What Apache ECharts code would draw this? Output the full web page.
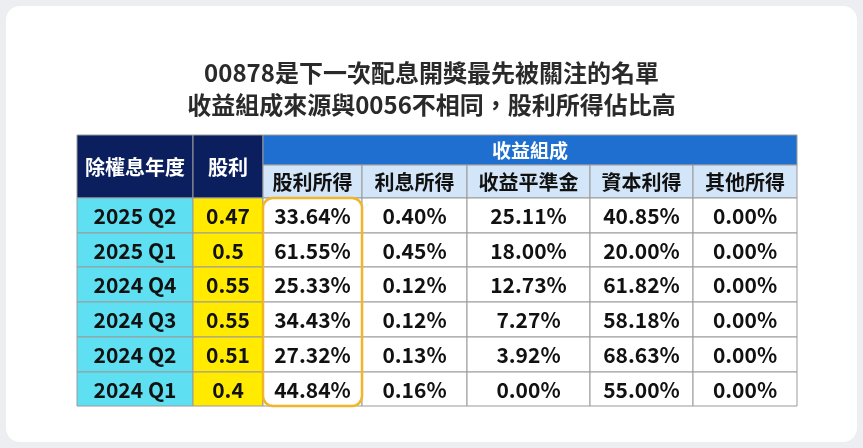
<!DOCTYPE html>
<html><head><meta charset="utf-8">
<script src="https://cdn.jsdelivr.net/npm/echarts@6/dist/echarts.min.js"></script>
<style>html,body{margin:0;background:#eceef2}#c{width:863px;height:448px}</style>
</head><body><div id="c"></div>
<script>
// 資料
var titles = ['00878是下一次配息開獎最先被關注的名單', '收益組成來源與0056不相同，股利所得佔比高'];
var periods = ['2025 Q2', '2025 Q1', '2024 Q4', '2024 Q3', '2024 Q2', '2024 Q1'];
var dividends = ['0.47', '0.5', '0.55', '0.55', '0.51', '0.4'];
var groupHeader = '收益組成';
var subHeaders = ['股利所得', '利息所得', '收益平準金', '資本利得', '其他所得'];
var divIncome = ['33.64%', '61.55%', '25.33%', '34.43%', '27.32%', '44.84%'];
var interest = ['0.40%', '0.45%', '0.12%', '0.12%', '0.13%', '0.16%'];
var equalization = ['25.11%', '18.00%', '12.73%', '7.27%', '3.92%', '0.00%'];
var capitalGain = ['40.85%', '20.00%', '61.82%', '58.18%', '68.63%', '55.00%'];
var other = ['0.00%', '0.00%', '0.00%', '0.00%', '0.00%', '0.00%'];

// 版面 (像素座標)
var colEdges = [77, 193, 263, 362, 467, 590, 693, 797];
var rowEdges = [135, 165, 198, 233, 267, 302, 337, 372, 406];
var fills = {navy: '#0b1f5e', blue: '#1f6fd0', light: '#d3e5f8', cyan: '#5fe0f2', yellow: '#ffea00', white: '#ffffff'};

var cells = [];
function add(c0, c1, r0, r1, text, kind) { cells.push([colEdges[c0], colEdges[c1], rowEdges[r0], rowEdges[r1], text, kind]); }
add(0, 1, 0, 2, '除權息年度', 'navy');
add(1, 2, 0, 2, '股利', 'navy');
add(2, 7, 0, 1, groupHeader, 'blue');
subHeaders.forEach(function (h, i) { add(i + 2, i + 3, 1, 2, h, 'light'); });
var cols = [divIncome, interest, equalization, capitalGain, other];
periods.forEach(function (p, r) {
    add(0, 1, r + 2, r + 3, p, 'cyan');
    add(1, 2, r + 2, r + 3, dividends[r], 'yellow');
    cols.forEach(function (col, i) { add(i + 2, i + 3, r + 2, r + 3, col[r], 'white'); });
});

var chart = echarts.init(document.getElementById('c'));
chart.setOption({
    backgroundColor: '#eceef2',
    graphic: [{type: 'rect', shape: {x: 6, y: 6, width: 851, height: 436, r: 14}, style: {fill: '#fff'}, z: -10}],
    title: [
        {text: titles[0], left: 'center', top: 56, textStyle: {fontFamily: 'Noto Sans CJK TC', fontSize: 24, fontWeight: 'bold', color: '#2a2a2a'}},
        {text: titles[1], left: 'center', top: 88, textStyle: {fontFamily: 'Noto Sans CJK TC', fontSize: 24, fontWeight: 'bold', color: '#2a2a2a'}}
    ],
    grid: {left: 0, right: 0, top: 0, bottom: 0},
    xAxis: {type: 'value', min: 0, max: 863, show: false},
    yAxis: {type: 'value', min: 0, max: 448, inverse: true, show: false},
    series: [{
        type: 'custom',
        data: cells,
        renderItem: function (params, api) {
            var c = cells[params.dataIndex];
            var p0 = api.coord([c[0], c[2]]), p1 = api.coord([c[1], c[3]]);
            var dark = c[5] === 'navy' || c[5] === 'blue';
            var size = c[5] === 'blue' ? 19 : (dark || c[5] === 'light' ? 20 : 21);
            return {
                type: 'group',
                children: [
                    {type: 'rect', shape: {x: p0[0], y: p0[1], width: p1[0] - p0[0], height: p1[1] - p0[1]},
                        style: {fill: fills[c[5]], stroke: '#9a9a9a', lineWidth: 1}},
                    {type: 'text', x: (p0[0] + p1[0]) / 2, y: (p0[1] + p1[1]) / 2 + 1,
                        style: {text: c[4], align: 'center', verticalAlign: 'middle',
                            fontFamily: 'Noto Sans CJK TC', fontWeight: 'bold', fontSize: size,
                            fill: dark ? '#fff' : '#111'}}
                ]
            };
        }
    }, {
        type: 'custom',
        data: [[colEdges[2], colEdges[3], rowEdges[2], rowEdges[8]]],
        z: 5,
        renderItem: function (params, api) {
            var p0 = api.coord([api.value(0), api.value(2)]), p1 = api.coord([api.value(1), api.value(3)]);
            return {type: 'rect', shape: {x: p0[0], y: p0[1], width: p1[0] - p0[0], height: p1[1] - p0[1], r: 10},
                style: {fill: 'none', stroke: '#f2b52a', lineWidth: 2.5}};
        }
    }]
});
</script></body></html>
